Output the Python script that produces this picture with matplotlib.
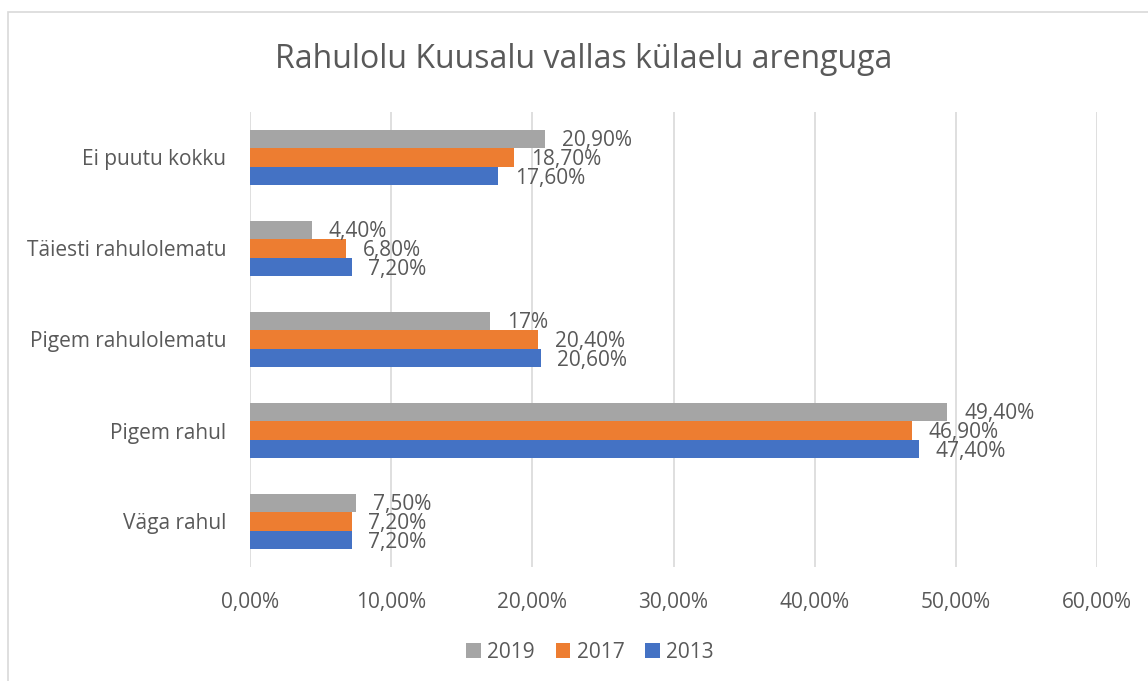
import matplotlib
matplotlib.use("Agg")
from matplotlib import pyplot as plt
from matplotlib.patches import Rectangle

categories = ["Väga rahul", "Pigem rahul", "Pigem rahulolematu", "Täiesti rahulolematu", "Ei puutu kokku"]
years = ["2019", "2017", "2013"]
values_2019 = [7.5, 49.4, 17.0, 4.4, 20.9]
values_2017 = [7.2, 46.9, 20.4, 6.8, 18.7]
values_2013 = [7.2, 47.4, 20.6, 7.2, 17.6]
colors = ["#A5A5A5", "#ED7D31", "#4472C4"]

text_color = "#595959"
plt.rcParams["font.family"] = ["Open Sans", "DejaVu Sans"]


def fmt(v):
    # Excel style with decimal comma, whole numbers without decimals
    if float(v).is_integer():
        return f"{int(v)}%"
    return f"{v:.2f}".replace(".", ",") + "%"


fig = plt.figure(figsize=(11.48, 6.81), dpi=100)

# chart border
fig.patches.append(Rectangle((8 / 1148, -0.1), 1.2, 1 - 12 / 681 + 0.1, transform=fig.transFigure,
                             fill=False, edgecolor="#D9D9D9", linewidth=1.2))

ax = fig.add_axes([250 / 1148, 1 - 567 / 681, 847 / 1148, 455 / 681])

h = 0.205
offsets = [h, 0, -h]
series = [values_2019, values_2017, values_2013]
for vals, off, col, yr in zip(series, offsets, colors, years):
    ypos = [i + off for i in range(len(categories))]
    ax.barh(ypos, vals, height=h, color=col, label=yr, zorder=2)
    for y, v in zip(ypos, vals):
        ax.annotate(fmt(v), (v, y), xytext=(12, -1.5), textcoords="offset points",
                    va="center", ha="left", fontsize=15, color=text_color)

ax.set_xlim(0, 60)
ax.set_ylim(-0.5, 4.5)
ax.set_xticks(range(0, 61, 10))
ax.set_xticklabels([f"{x:.2f}".replace(".", ",") + "%" for x in range(0, 61, 10)])
ax.set_yticks(range(len(categories)))
ax.set_yticklabels(categories)
ax.tick_params(axis="both", length=0, labelsize=15, colors=text_color)
ax.tick_params(axis="x", pad=18)
ax.tick_params(axis="y", pad=17)
ax.grid(axis="x", color="#D9D9D9", linewidth=1.2, zorder=0)
for s in ax.spines.values():
    s.set_visible(False)

fig.text(584 / 1148, 1 - 60 / 681, "Rahulolu Kuusalu vallas külaelu arenguga", ha="center", va="center",
         fontsize=23, color=text_color)

ax.legend(loc="center", bbox_to_anchor=(590 / 1148, 1 - 652 / 681), bbox_transform=fig.transFigure,
          ncol=3, frameon=False, fontsize=15, handlelength=0.7, handleheight=0.7,
          columnspacing=1.0, handletextpad=0.3, labelcolor=text_color)

fig.savefig("out.png", dpi=100)
